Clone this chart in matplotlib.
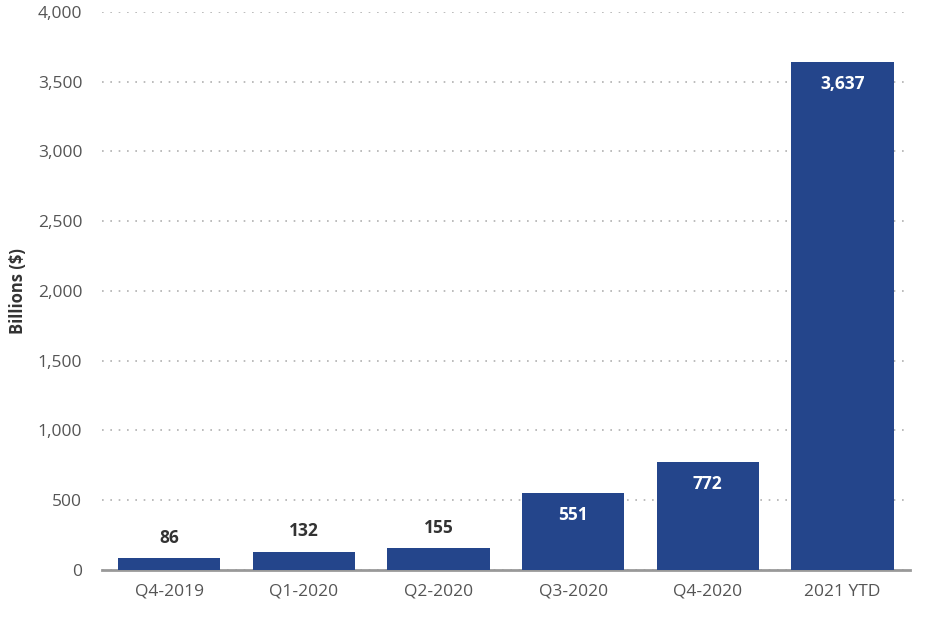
import matplotlib
matplotlib.use("Agg")
import matplotlib.pyplot as plt
from matplotlib.ticker import FuncFormatter

categories = ["Q4-2019", "Q1-2020", "Q2-2020", "Q3-2020", "Q4-2020", "2021 YTD"]
values = [86, 132, 155, 551, 772, 3637]
inside = [False, False, False, True, True, True]

plt.rcParams['font.family'] = ['Open Sans', 'DejaVu Sans']

fig = plt.figure(figsize=(9.34, 6.3), dpi=100)
ax = fig.add_axes([0.109, 0.0952, 0.865, 0.886])

bar_color = "#24458b"
x = list(range(len(categories)))
bars = ax.bar(x, values, width=0.76, color=bar_color, zorder=3)

ax.set_xlim(-0.5, 5.5)
ax.set_ylim(0, 4000)
ax.set_yticks(range(0, 4001, 500))
ax.yaxis.set_major_formatter(FuncFormatter(lambda v, p: f"{int(v):,}"))
ax.set_xticks(x)
ax.set_xticklabels(categories)

ax.grid(axis='y', linestyle=(0, (1, 4)), color="#b0b0b0", linewidth=1.2, zorder=0)
for s in ["top", "right", "left"]:
    ax.spines[s].set_visible(False)
ax.spines["bottom"].set_color("#999999")
ax.spines["bottom"].set_linewidth(2)
ax.tick_params(axis='both', length=0, labelsize=12.5, colors="#555555", pad=10)
ax.tick_params(axis='y', pad=14)
ax.set_ylabel("Billions ($)", fontsize=12, fontweight='bold', color="#333333", labelpad=8)

for xi, v, ins in zip(x, values, inside):
    if ins:
        ax.annotate(f"{v:,}", (xi, v), xytext=(0, -9), textcoords="offset points",
                    ha='center', va='top', fontsize=12.5, fontweight='bold', color="white", zorder=4)
    else:
        ax.annotate(f"{v:,}", (xi, v), xytext=(0, 8), textcoords="offset points",
                    ha='center', va='bottom', fontsize=12.5, fontweight='bold', color="#333333", zorder=4)

fig.savefig("out.png", dpi=100)
